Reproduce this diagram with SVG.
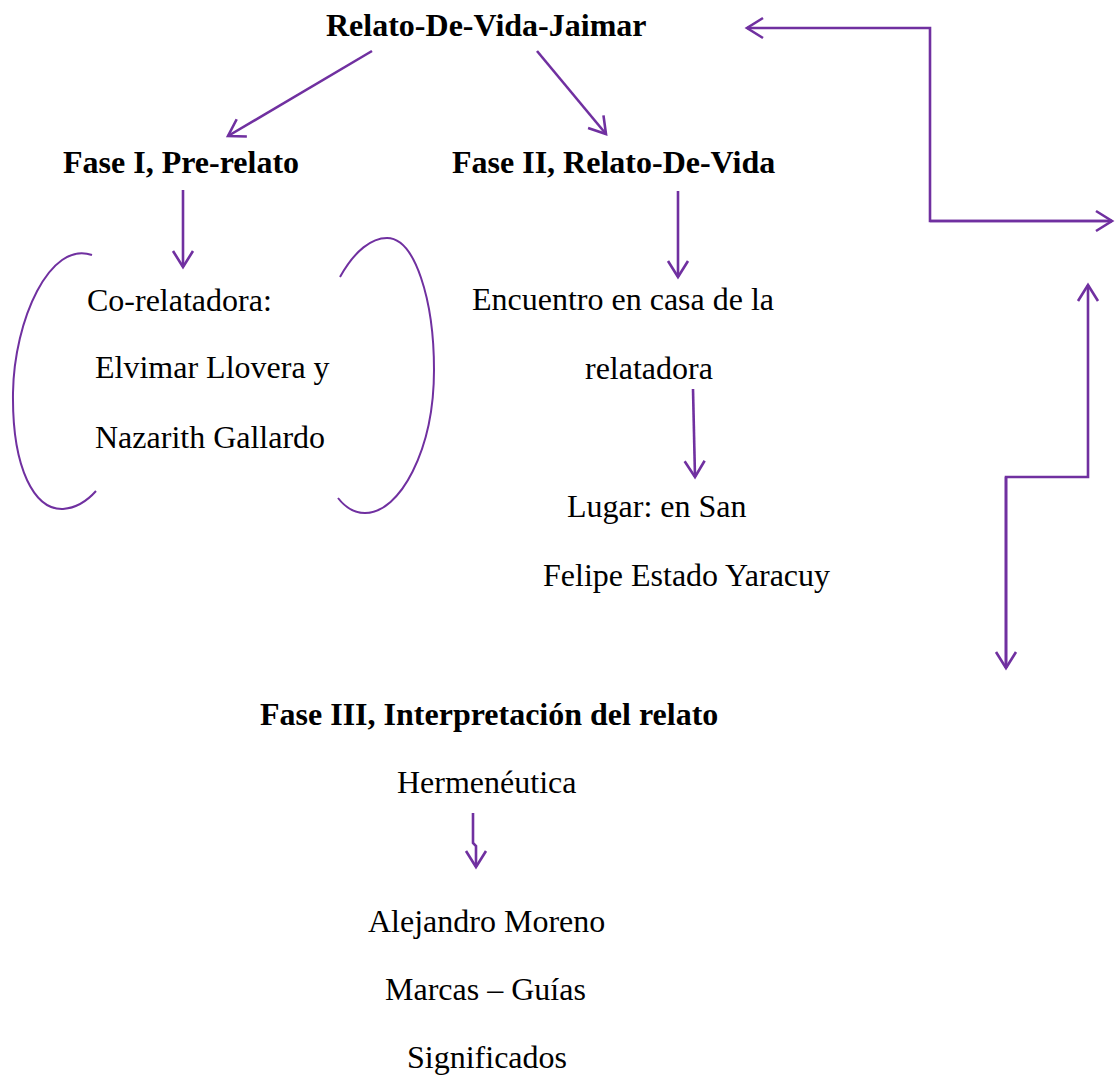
<svg xmlns="http://www.w3.org/2000/svg" width="1117" height="1076" viewBox="0 0 1117 1076">
<style>
  text { font-family: "Liberation Serif", "Times New Roman", serif; font-size: 32px; fill: #000; }
  .b { font-weight: bold; }
  .c { fill: none; stroke: #7030A0; stroke-width: 2.6; stroke-linejoin: miter; }
  .br { fill: none; stroke: #7030A0; stroke-width: 2; }
  .a { marker-end: url(#arr); }
</style>
<defs>
  <marker id="arr" markerUnits="userSpaceOnUse" markerWidth="24" markerHeight="24" viewBox="-20 -12 24 24" refX="0" refY="0" orient="auto" overflow="visible">
    <path d="M -16 -10 L 0 0 L -16 10" fill="none" stroke="#7030A0" stroke-width="2.6"/>
  </marker>
</defs>
<rect width="1117" height="1076" fill="#fff"/>
<g id="connectors">
  <path class="c a" d="M 372 51 L 228 136"/>
  <path class="c a" d="M 537 51 L 606 134"/>
  <path class="c a" d="M 183 190 L 183 267"/>
  <path class="c a" d="M 678 191 L 678 277"/>
  <path class="c a" d="M 693 389 L 695 477"/>
  <path class="c a" d="M 473 813 L 473 843 L 476 846 L 476 867"/>
  <path class="c a" d="M 1112 221 L 930 221 L 930 28 L 747 28"/>
  <path class="c a" d="M 930 221 L 1112 221"/>
  <path class="c a" d="M 1006 668 L 1006 477 L 1088 477 L 1088 285"/>
  <path class="c a" d="M 1006 477 L 1006 668"/>
  <path class="br" d="M 92 255 C 50 240, 14 320, 13 393 C 12 470, 35 510, 63 509 C 76 508, 88 500, 96 491"/>
  <path class="br" d="M 340 277 C 355 250, 372 238, 387 238 C 415 238, 434 300, 434 370 C 434 450, 400 513, 365 513 C 353 513, 345 507, 338 498"/>
</g>
<g id="n-title"><text class="b" x="326" y="36">Relato-De-Vida-Jaimar</text></g>
<g id="n-fase1"><text class="b" x="63" y="173">Fase I, Pre-relato</text></g>
<g id="n-fase2"><text class="b" x="452" y="173">Fase II, Relato-De-Vida</text></g>
<g id="n-corelatadora">
  <text x="87" y="311">Co-relatadora:</text>
  <text x="95" y="378">Elvimar Llovera y</text>
  <text x="95" y="448">Nazarith Gallardo</text>
</g>
<g id="n-encuentro">
  <text x="472" y="310">Encuentro en casa de la</text>
  <text x="585" y="379">relatadora</text>
</g>
<g id="n-lugar">
  <text x="567" y="517">Lugar: en San</text>
  <text x="543" y="586">Felipe Estado Yaracuy</text>
</g>
<g id="n-fase3"><text class="b" x="260" y="725">Fase III, Interpretación del relato</text></g>
<g id="n-hermeneutica"><text x="397" y="793">Hermenéutica</text></g>
<g id="n-moreno">
  <text x="368" y="932">Alejandro Moreno</text>
  <text x="385" y="1000">Marcas – Guías</text>
  <text x="407" y="1068">Significados</text>
</g>
</svg>
